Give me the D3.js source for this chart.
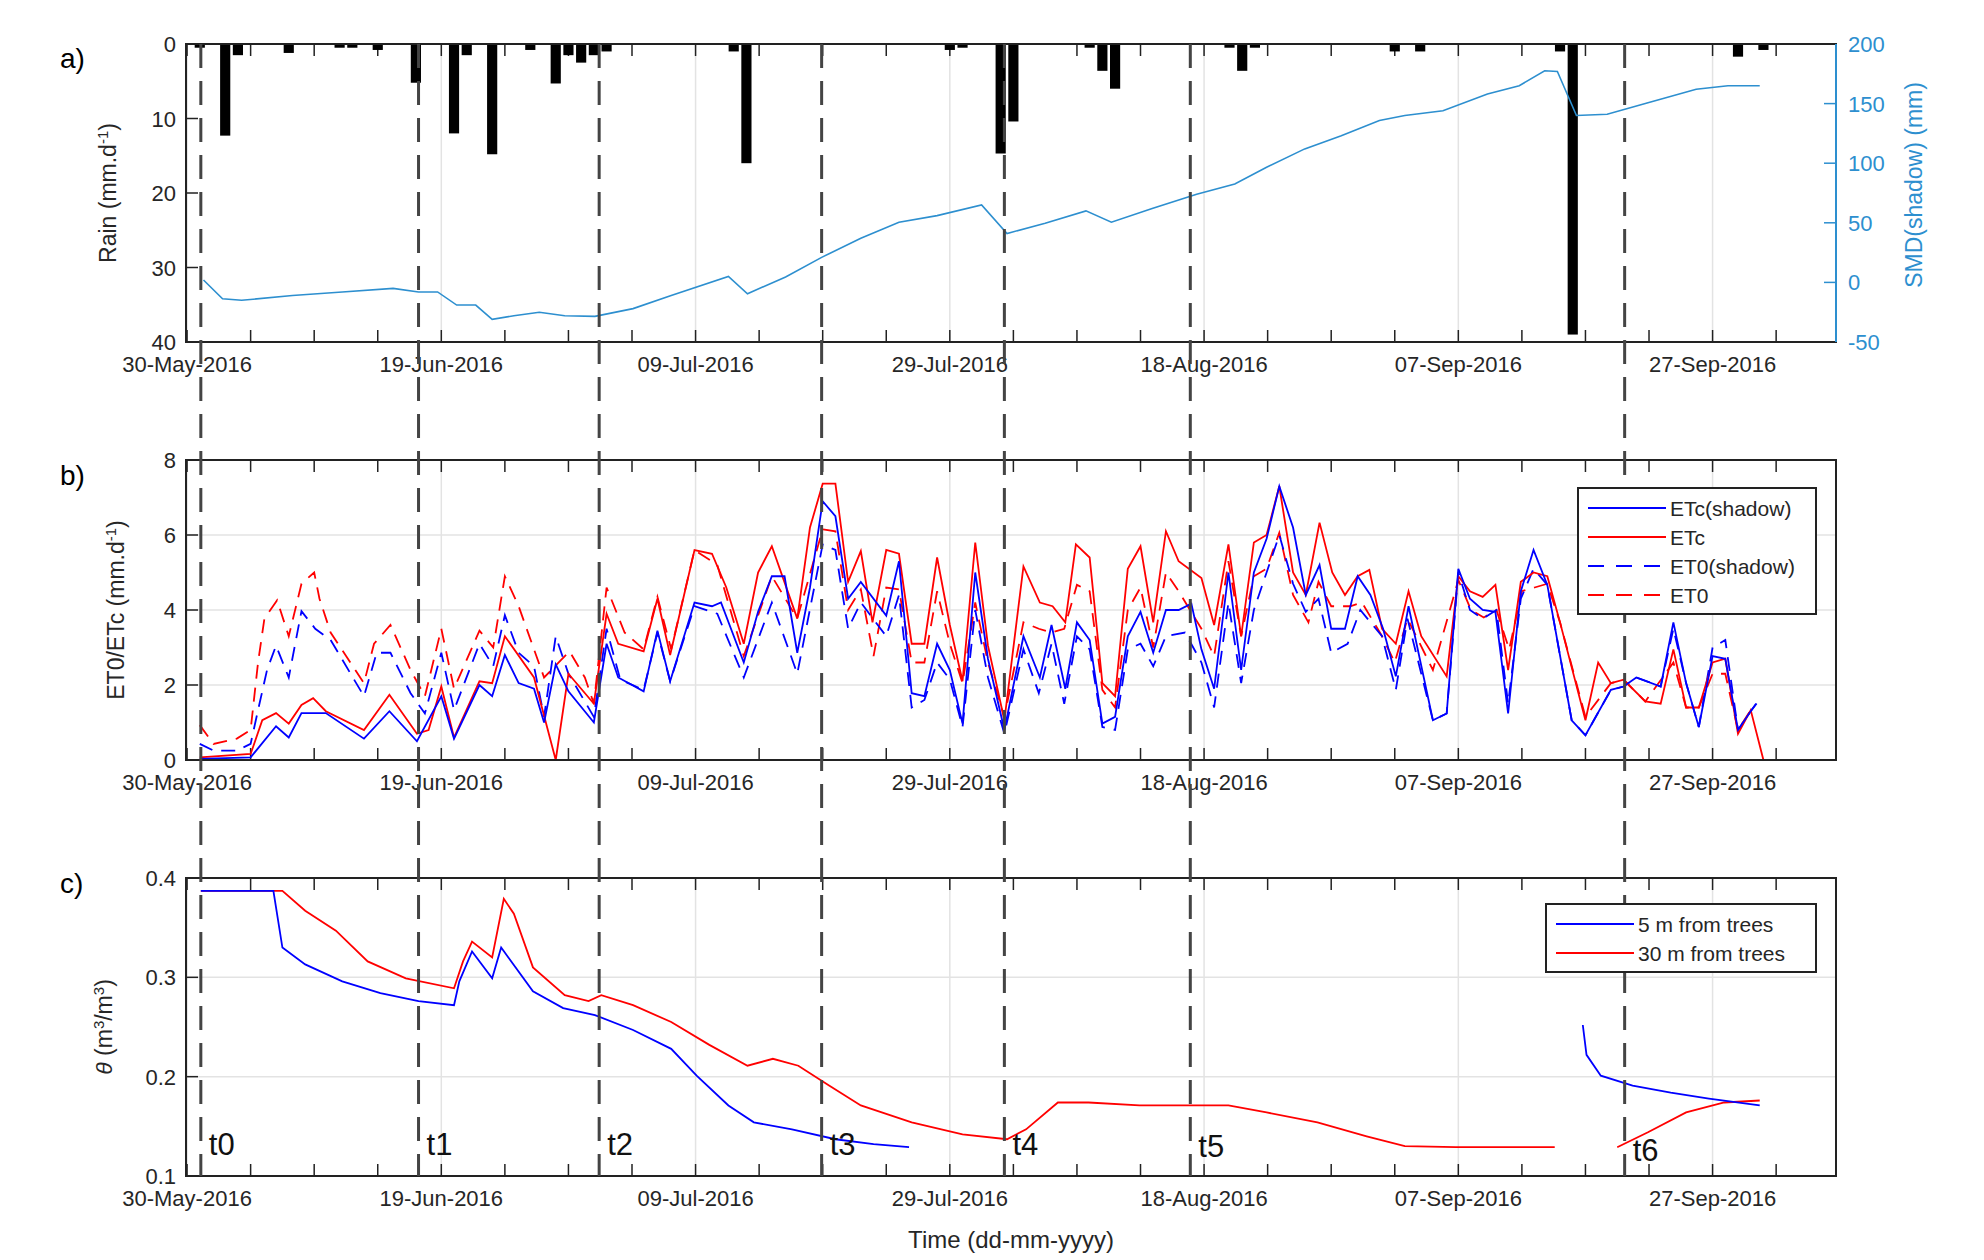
<!DOCTYPE html>
<html>
<head>
<meta charset="utf-8">
<script src="https://cdn.jsdelivr.net/npm/d3@7"></script>
<style>
body { margin: 0; background: #fff; }
text { font-family: "Liberation Sans", Arial, sans-serif; }
</style>
</head>
<body>
<svg id="chart" width="1984" height="1260"></svg>
<script>
// day offsets counted from 30-May-2016
var rainDays = [1,3,4,8,12,13,15,18,21,22,24,27,29,30,31,32,33,43,44,60,61,64,65,71,72,73,82,83,84,95,97,108,109,122,124];
var rainVals = [0.5,12.3,1.5,1.2,0.5,0.5,0.8,5.2,12,1.5,14.8,0.8,5.3,1.5,2.5,1.5,1,1,16,0.8,0.5,14.7,10.4,0.5,3.6,6,0.5,3.6,0.5,1,1,1,39,1.7,0.8];

var smd = [[1.3,2],[2.8,-13.7],[4.3,-15],[8.3,-11],[12.2,-8],[16.2,-5],[18.2,-8],[19.7,-8],[21.2,-19],[22.7,-19],[24,-31],[25.7,-28],[27.7,-25],[29.7,-28],[32.1,-28.5],[35.1,-22],[38.1,-11],[42.6,5],[44.1,-9.5],[47.1,4.5],[49.9,21],[53,37],[56,50.5],[59,56],[62.5,65],[64.5,41],[67.5,49.7],[70.7,60],[72.7,50.5],[75.9,62],[79.4,74],[82.4,82.6],[84.9,96.6],[87.9,112],[90.8,123],[93.8,135.8],[95.8,140],[98.8,144],[102.3,158],[104.8,165],[106.8,177.6],[107.8,177],[109.3,140],[111.7,141],[114.7,150],[118.7,162],[121.2,165],[123.7,165]];

var etcShadow = [[1,0.03],[5,0.07],[7,0.9],[8,0.6],[9,1.25],[10.9,1.25],[13.9,0.57],[15.9,1.3],[18.1,0.5],[20,1.7],[21,0.57],[23,2.0],[24,1.7],[25,2.8],[26.1,2.05],[27.3,1.9],[28.1,1.0],[29,2.55],[30,1.83],[32,1.0],[33,3.1],[33.9,2.2],[35.9,1.83],[37,3.45],[38,2.1],[39.9,4.2],[41.3,4.1],[42,4.2],[43.8,2.6],[44.9,3.95],[46,4.9],[47,4.9],[48,2.86],[49,4.6],[50,6.9],[51,6.5],[52,4.3],[53,4.75],[55,3.85],[56,5.3],[57,1.78],[58,1.7],[59,3.1],[60,2.4],[61,0.97],[62,5.0],[63,2.7],[64.3,0.8],[65.8,3.3],[67.1,2.2],[68,3.6],[69.1,1.9],[70,3.67],[71,3.2],[72,0.97],[73,1.15],[74,3.3],[75,3.95],[76,2.86],[77,4.0],[78,4.0],[79,4.17],[79.8,2.95],[80.8,1.9],[81.9,5.0],[82.9,2.4],[83.9,5.0],[84.9,5.9],[85.9,7.3],[87,6.2],[88,4.4],[89.1,5.2],[90,3.5],[91.1,3.5],[92.1,4.9],[93.1,4.4],[94.1,3.5],[95.1,2.23],[96.1,4.1],[98,1.06],[99.1,1.24],[100,5.1],[100.9,4.3],[101.9,4.0],[102.9,3.95],[103.9,1.24],[104.9,4.5],[105.9,5.6],[107,4.67],[108.9,1.06],[110,0.66],[112,1.87],[113,1.96],[114,2.2],[115.9,1.96],[116.9,3.67],[117.9,2.05],[118.9,0.88],[120,2.77],[121,2.7],[122,0.8],[123,1.3],[123.4,1.5]];

var etc = [[1,0.07],[5,0.16],[5.9,1.06],[7,1.25],[8,0.97],[9,1.47],[9.9,1.65],[10.9,1.3],[13.9,0.8],[15.9,1.74],[18.1,0.7],[19,0.8],[20,1.96],[21,0.6],[23,2.1],[24,2.05],[25,3.3],[27.3,2.2],[29,0],[30,2.3],[32,1.5],[33,3.9],[33.9,3.1],[35.9,2.9],[37,4.3],[38,2.8],[39.9,5.6],[41.3,5.5],[42.4,4.6],[43.8,3.1],[44.9,5.0],[46,5.7],[48,3.77],[49,6.2],[50,7.37],[51,7.37],[52,4.75],[53,5.57],[53.9,3.67],[55,5.6],[56,5.5],[57,3.1],[58,3.1],[59,5.4],[60,3.6],[61,2.1],[62,5.8],[63,3.05],[64.3,1.06],[65.8,5.16],[67.1,4.2],[68.1,4.1],[69.1,3.67],[69.9,5.75],[71,5.4],[72,2.05],[73,1.7],[74,5.1],[75,5.7],[76,3.67],[77,6.1],[78,5.3],[79.8,4.85],[80.8,3.6],[81.9,5.75],[82.9,3.3],[83.9,5.8],[84.9,6.0],[85.9,7.3],[87,5.0],[88,4.4],[89.1,6.33],[90.1,5.0],[91.1,4.4],[92.1,4.9],[93,5.07],[94,3.5],[95.1,3.1],[96.1,4.5],[97.1,3.3],[99.1,2.23],[100,4.9],[100.9,4.5],[101.9,4.35],[102.9,4.67],[103.9,2.4],[104.9,4.75],[105.9,5.0],[107,4.9],[108,3.67],[110,1.06],[111,2.6],[112,2.05],[113,2.14],[114.7,1.56],[115.9,1.5],[116.9,2.95],[117.9,1.4],[118.9,1.4],[120,2.6],[121,2.7],[122,0.7],[123,1.33],[124,0]];

var et0Shadow = [[1,0.43],[2.1,0.25],[3.9,0.25],[5,0.43],[5.6,1.33],[6.3,2.4],[7,3.05],[8,2.2],[9,3.97],[10.1,3.5],[11.3,3.2],[13.9,1.7],[14.9,2.86],[16,2.86],[17.6,1.78],[18.7,1.24],[20,2.86],[21,1.33],[23,3.1],[24.1,2.5],[25,3.86],[26.1,2.86],[27.3,2.5],[28.1,1.15],[29,3.3],[30,2.3],[32,1.15],[33,3.5],[34.1,2.14],[35.9,1.87],[37,3.4],[38,2.1],[39.9,4.1],[41.7,3.9],[43.8,2.2],[46,4.2],[48,2.3],[50,5.75],[51,5.6],[52,3.5],[53,4.2],[55,3.3],[56,4.4],[57,1.4],[58,1.6],[59,2.6],[60,2.15],[61,0.88],[62,4.0],[63,2.2],[64.3,0.7],[65.8,2.95],[67,1.78],[68,3.1],[69,1.5],[70,3.3],[71,2.95],[72,0.88],[73,0.8],[74,2.95],[75,3.1],[76,2.5],[77,3.3],[78.5,3.4],[79.8,2.6],[80.8,1.4],[81.9,4.2],[82.9,2.05],[83.9,4.0],[84.9,5.0],[85.9,6.0],[87,4.7],[88,3.95],[89,4.3],[90,2.86],[91.3,3.1],[92.3,4.0],[94,3.3],[95.1,1.87],[96,3.77],[98,1.06],[99.1,1.24],[100,5.0],[100.9,4.0],[101.9,3.77],[103,4.0],[103.9,1.5],[104.9,4.3],[105.9,5.1],[107,4.67],[108.9,1.06],[110,0.66],[112,1.87],[113,1.96],[114,2.2],[115.9,1.96],[116.9,3.5],[117.9,2.05],[118.9,0.88],[120,3.0],[121,3.2],[122,0.8],[123,1.3],[123.8,1.65]];

var et0 = [[1,0.93],[2.1,0.43],[3.9,0.57],[5,0.8],[5.6,2.6],[6.1,3.77],[7.1,4.26],[8,3.3],[9,4.7],[10,5.0],[10.4,4.3],[11.3,3.4],[13.9,2.05],[14.7,3.1],[16,3.6],[17.6,2.4],[18.7,1.7],[20,3.5],[21,1.9],[23,3.45],[24.1,3.0],[25,4.9],[26.1,4.1],[27.3,2.95],[28.1,2.2],[30.1,2.9],[31.3,2.2],[32,1.5],[33,4.6],[34.4,3.4],[35.9,2.95],[37,4.35],[38.1,2.95],[39.9,5.6],[41.7,5.2],[43.8,2.77],[46,4.9],[48,3.77],[50,6.15],[51,6.1],[52,4.0],[53,4.55],[54,2.77],[55,4.6],[56,4.55],[57,2.6],[58,2.6],[59,4.5],[60,3.1],[61,2.05],[62,4.2],[63,2.6],[64.3,1.15],[65.8,3.67],[67,3.5],[68,3.4],[69,3.5],[70,4.67],[71,4.5],[72,1.87],[73,1.4],[74,4.0],[75,4.6],[76,3.0],[77,5.0],[78,4.5],[79.8,3.5],[80.8,2.77],[81.9,5.3],[82.9,3.3],[83.9,4.9],[84.9,5.1],[85.9,6.06],[87,4.4],[88.2,3.67],[89,4.75],[90,4.1],[91.5,4.1],[92.4,4.2],[94,3.3],[95,2.6],[96,3.77],[98,2.4],[100,4.8],[101,4.0],[102,3.8],[103,4.0],[104,2.95],[105,4.5],[106,4.6],[107,4.7],[108,3.67],[110,1.15],[112,2.05],[113,2.14],[114.7,1.56],[116.9,2.6],[117.9,1.4],[118.9,1.4],[120,2.3],[121,2.3],[122,0.8],[123,1.33]];

// soil moisture, null = gap in record
var theta5m = [[1.1,0.387],[6.8,0.387],[7.5,0.33],[9.3,0.313],[12.2,0.296],[15.2,0.284],[18.2,0.276],[21.0,0.272],[21.4,0.296],[22.4,0.326],[24.0,0.299],[24.7,0.33],[27.2,0.286],[29.6,0.269],[32.1,0.262],[35.1,0.247],[38.1,0.228],[40.1,0.201],[42.6,0.171],[44.6,0.154],[47.6,0.147],[51.0,0.137],[54.0,0.132],[56.8,0.129],null,[109.8,0.252],[110.1,0.222],[111.2,0.201],[113.7,0.191],[116.7,0.184],[119.7,0.178],[123.7,0.171]];
var theta30m = [[1.1,0.387],[7.5,0.387],[9.3,0.367],[11.7,0.347],[14.2,0.316],[17.2,0.299],[21.0,0.289],[21.7,0.316],[22.4,0.336],[24.0,0.32],[24.9,0.379],[25.7,0.364],[27.2,0.31],[29.7,0.282],[31.6,0.276],[32.6,0.282],[35.1,0.272],[38.1,0.255],[41.1,0.232],[44.1,0.211],[46.1,0.218],[48.1,0.211],[50.5,0.191],[53.0,0.171],[57.0,0.154],[61.0,0.142],[64.5,0.137],[66.0,0.147],[68.5,0.174],[70.9,0.174],[74.9,0.171],[78.9,0.171],[81.9,0.171],[84.9,0.164],[88.9,0.154],[92.8,0.14],[95.8,0.13],[99.8,0.129],[107.6,0.129],null,[112.5,0.129],[114.9,0.144],[117.9,0.164],[120.9,0.174],[123.7,0.176]];

var tLineDays = [1.1, 18.2, 32.4, 49.9, 64.3, 78.9, 113.1];
var tLabels = ["t0","t1","t2","t3","t4","t5","t6"];
var tLabelY = [0.121, 0.121, 0.121, 0.121, 0.121, 0.119, 0.115];

var base = new Date(2016, 4, 30);
function day(d) { return d3.timeHour.offset(base, Math.round(d * 24)); }

var svg = d3.select("#chart");
var left = 186, right = 1836;
var x = d3.scaleTime().domain([day(-0.1), day(129.7)]).range([left, right]);
var majorTicks = d3.range(0, 121, 20).map(day);
var minorTicks = d3.range(0, 130, 5).map(day);
var fmt = d3.timeFormat("%d-%b-%Y");
var blueSmd = "#2d8fcf";

function panel(top, bottom, y, yTicks, yFmt, hGrid) {
  var g = svg.append("g");
  g.selectAll(".vg").data(majorTicks).enter().append("line")
    .attr("x1", d => x(d)).attr("x2", d => x(d)).attr("y1", top).attr("y2", bottom)
    .attr("stroke", "#e3e3e3").attr("stroke-width", 1.5);
  if (hGrid) {
    g.selectAll(".hg").data(yTicks.slice(1, -1)).enter().append("line")
      .attr("x1", left).attr("x2", right).attr("y1", d => y(d)).attr("y2", d => y(d))
      .attr("stroke", "#e3e3e3").attr("stroke-width", 1.5);
  }
  // x ticks top and bottom (inward)
  [top, bottom].forEach(function(yy, k) {
    g.selectAll(null).data(minorTicks).enter().append("line")
      .attr("x1", d => x(d)).attr("x2", d => x(d))
      .attr("y1", yy).attr("y2", k ? yy - 12 : yy + 12)
      .attr("stroke", "#222").attr("stroke-width", 1.5);
  });
  g.selectAll(".xl").data(majorTicks).enter().append("text")
    .attr("x", d => x(d)).attr("y", bottom + 30).attr("text-anchor", "middle")
    .attr("font-size", 22).attr("fill", "#262626").text(d => fmt(d));
  g.selectAll(".yt").data(yTicks).enter().append("line")
    .attr("x1", left).attr("x2", left + 12).attr("y1", d => y(d)).attr("y2", d => y(d))
    .attr("stroke", "#222").attr("stroke-width", 1.5);
  g.selectAll(".yl").data(yTicks).enter().append("text")
    .attr("x", left - 10).attr("y", d => y(d) + 8).attr("text-anchor", "end")
    .attr("font-size", 22).attr("fill", "#262626").text(yFmt);
  return g;
}

function frame(top, bottom) {
  svg.append("rect").attr("x", left).attr("y", top).attr("width", right - left).attr("height", bottom - top)
    .attr("fill", "none").attr("stroke", "#222").attr("stroke-width", 2);
}

function yLabel(g, cx, cy, parts, color) {
  var t = g.append("text").attr("transform", "translate(" + cx + "," + cy + ") rotate(-90)")
    .attr("text-anchor", "middle").attr("font-size", 23).attr("fill", color || "#262626");
  parts.forEach(function(p) {
    var s = t.append("tspan").text(p[0]);
    if (p[1]) s.attr("baseline-shift", "super").attr("font-size", 15);
    if (p[2]) s.attr("font-style", "italic");
  });
}

// ---------- panel a ----------
var aTop = 44, aBot = 342;
var yRain = d3.scaleLinear().domain([0, 40]).range([aTop, aBot]);
var ySmd = d3.scaleLinear().domain([-50, 200]).range([aBot, aTop]);
var ga = panel(aTop, aBot, yRain, [0, 10, 20, 30, 40], d => d, false);
var bw = x(day(1)) - x(day(0));
ga.selectAll(".bar").data(rainDays).enter().append("rect")
  .attr("x", (d) => x(day(d)) - bw * 0.4).attr("width", bw * 0.8)
  .attr("y", yRain(0)).attr("height", (d, i) => yRain(rainVals[i]) - yRain(0))
  .attr("fill", "#000");
ga.append("path").datum(smd)
  .attr("d", d3.line().x(d => x(day(d[0]))).y(d => ySmd(d[1])))
  .attr("fill", "none").attr("stroke", blueSmd).attr("stroke-width", 1.6);
var smdTicks = [-50, 0, 50, 100, 150, 200];
ga.selectAll(".rt").data(smdTicks).enter().append("line")
  .attr("x1", right).attr("x2", right - 12).attr("y1", d => ySmd(d)).attr("y2", d => ySmd(d))
  .attr("stroke", blueSmd).attr("stroke-width", 1.5);
ga.selectAll(".rl").data(smdTicks).enter().append("text")
  .attr("x", right + 12).attr("y", d => ySmd(d) + 8).attr("font-size", 22).attr("fill", blueSmd).text(d => d);
frame(aTop, aBot);
svg.append("line").attr("x1", right).attr("x2", right).attr("y1", aTop).attr("y2", aBot)
  .attr("stroke", blueSmd).attr("stroke-width", 2);
yLabel(ga, 116, (aTop + aBot) / 2, [["Rain (mm.d"], ["-1", true], [")"]]);
yLabel(ga, 1922, (aTop + aBot) / 2 - 8, [["SMD(shadow) (mm)"]], blueSmd);
svg.append("text").attr("x", 60).attr("y", 68).attr("font-size", 28).text("a)");

// ---------- panel b ----------
var bTop = 460, bBot = 760;
var yEt = d3.scaleLinear().domain([0, 8]).range([bBot, bTop]);
var gb = panel(bTop, bBot, yEt, [0, 2, 4, 6, 8], d => d, true);
var etLine = d3.line().x(d => x(day(d[0]))).y(d => yEt(d[1]));
var etSeries = [
  { name: "ETc(shadow)", data: etcShadow, color: "#0000ff", dash: null },
  { name: "ETc", data: etc, color: "#ff0000", dash: null },
  { name: "ET0(shadow)", data: et0Shadow, color: "#0000ff", dash: "14,9" },
  { name: "ET0", data: et0, color: "#ff0000", dash: "14,9" }
];
etSeries.slice().reverse().forEach(function(s) {
  gb.append("path").datum(s.data).attr("d", etLine).attr("fill", "none")
    .attr("stroke", s.color).attr("stroke-width", 1.8).attr("stroke-dasharray", s.dash);
});
frame(bTop, bBot);
yLabel(gb, 124, (bTop + bBot) / 2, [["ET0/ETc (mm.d"], ["-1", true], [")"]]);
svg.append("text").attr("x", 60).attr("y", 485).attr("font-size", 28).text("b)");

// ---------- panel c ----------
var cTop = 878, cBot = 1176;
var yTh = d3.scaleLinear().domain([0.1, 0.4]).range([cBot, cTop]);
var gc = panel(cTop, cBot, yTh, [0.1, 0.2, 0.3, 0.4], d => d3.format(".1f")(d), true);
var thLine = d3.line().defined(d => d !== null).x(d => x(day(d[0]))).y(d => yTh(d[1]));
gc.append("path").datum(theta30m).attr("d", thLine).attr("fill", "none").attr("stroke", "#ff0000").attr("stroke-width", 1.8);
gc.append("path").datum(theta5m).attr("d", thLine).attr("fill", "none").attr("stroke", "#0000ff").attr("stroke-width", 1.8);
frame(cTop, cBot);
yLabel(gc, 112, (cTop + cBot) / 2, [["θ", false, true], [" (m"], ["3", true], ["/m"], ["3", true], [")"]]);
svg.append("text").attr("x", 60).attr("y", 893).attr("font-size", 28).text("c)");
svg.append("text").attr("x", (left + right) / 2).attr("y", 1248).attr("text-anchor", "middle")
  .attr("font-size", 24).attr("fill", "#262626").text("Time (dd-mm-yyyy)");

// event lines crossing all panels
svg.selectAll(".tl").data(tLineDays).enter().append("line")
  .attr("x1", d => x(day(d))).attr("x2", d => x(day(d))).attr("y1", aTop).attr("y2", cBot)
  .attr("stroke", "#444").attr("stroke-width", 3).attr("stroke-dasharray", "24,13");
svg.selectAll(".tt").data(tLineDays).enter().append("text")
  .attr("x", d => x(day(d)) + 8).attr("y", (d, i) => yTh(tLabelY[i]))
  .attr("font-size", 31).attr("fill", "#111").text((d, i) => tLabels[i]);

// legends
function legend(x0, y0, w, items) {
  var h = items.length * 29 + 10;
  var g = svg.append("g");
  g.append("rect").attr("x", x0).attr("y", y0).attr("width", w).attr("height", h)
    .attr("fill", "#fff").attr("stroke", "#222").attr("stroke-width", 2);
  items.forEach(function(s, i) {
    var yy = y0 + 20 + i * 29;
    g.append("line").attr("x1", x0 + 10).attr("x2", x0 + 88).attr("y1", yy).attr("y2", yy)
      .attr("stroke", s.color).attr("stroke-width", 2.2).attr("stroke-dasharray", s.dash ? "16,12" : null);
    g.append("text").attr("x", x0 + 92).attr("y", yy + 8).attr("font-size", 21).attr("fill", "#262626").text(s.name);
  });
}
legend(1578, 488, 238, etSeries);
legend(1546, 904, 270, [{ name: "5 m from trees", color: "#0000ff" }, { name: "30 m from trees", color: "#ff0000" }]);
</script>
</body>
</html>
